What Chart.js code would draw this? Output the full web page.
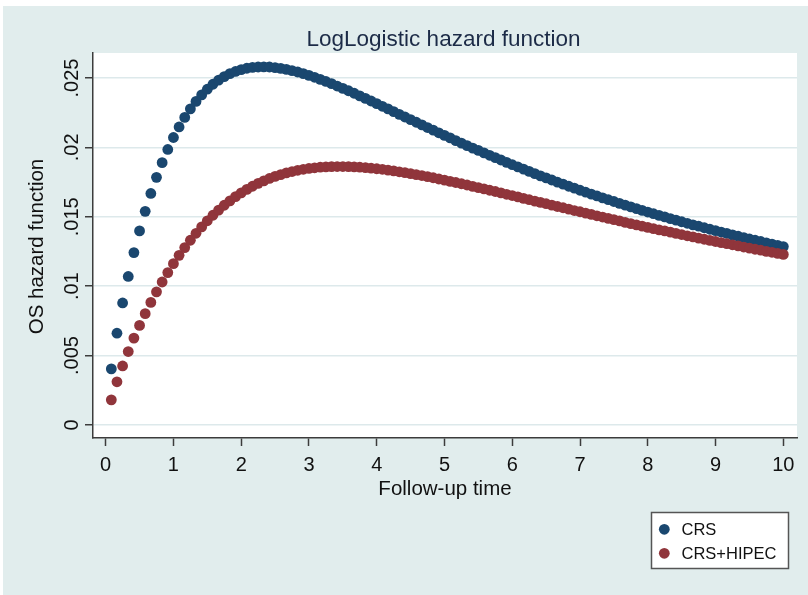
<!DOCTYPE html>
<html>
<head>
<meta charset="utf-8">
<title>LogLogistic hazard function</title>
<script src="https://cdn.jsdelivr.net/npm/chart.js@4.4.1/dist/chart.umd.min.js"></script>
<style>
  html, body { margin: 0; padding: 0; background: #fff; }
  canvas { display: block; }
</style>
</head>
<body>
<canvas id="hazard" width="808" height="595"></canvas>
<script>
// ---- data ----
const titleText = 'LogLogistic hazard function';
const xTitle = 'Follow-up time';
const yTitle = 'OS hazard function';
const seriesNames = ['CRS', 'CRS+HIPEC'];

const xTicks = [0, 1, 2, 3, 4, 5, 6, 7, 8, 9, 10];
const xTickLabels = ['0', '1', '2', '3', '4', '5', '6', '7', '8', '9', '10'];
const yTicks = [0, 0.005, 0.01, 0.015, 0.02, 0.025];
const yTickLabels = ['0', '.005', '.01', '.015', '.02', '.025'];

// follow-up grid, in months (plotted in years)
const months = [
  1, 2, 3, 4, 5, 6, 7, 8, 9, 10, 11, 12, 13, 14, 15, 16, 17, 18, 19, 20,
  21, 22, 23, 24, 25, 26, 27, 28, 29, 30, 31, 32, 33, 34, 35, 36, 37, 38, 39, 40,
  41, 42, 43, 44, 45, 46, 47, 48, 49, 50, 51, 52, 53, 54, 55, 56, 57, 58, 59, 60,
  61, 62, 63, 64, 65, 66, 67, 68, 69, 70, 71, 72, 73, 74, 75, 76, 77, 78, 79, 80,
  81, 82, 83, 84, 85, 86, 87, 88, 89, 90, 91, 92, 93, 94, 95, 96, 97, 98, 99, 100,
  101, 102, 103, 104, 105, 106, 107, 108, 109, 110, 111, 112, 113, 114, 115, 116, 117, 118, 119, 120
];

const crsHazard = [
  0.00404, 0.00661, 0.00879, 0.01070, 0.01242, 0.01398, 0.01539, 0.01668, 0.01784, 0.01890,
  0.01985, 0.02071, 0.02147, 0.02216, 0.02277, 0.02331, 0.02378, 0.02419, 0.02455, 0.02485,
  0.02510, 0.02531, 0.02547, 0.02560, 0.02570, 0.02576, 0.02579, 0.02580, 0.02579, 0.02575,
  0.02569, 0.02562, 0.02553, 0.02543, 0.02531, 0.02519, 0.02505, 0.02490, 0.02475, 0.02459,
  0.02442, 0.02425, 0.02408, 0.02390, 0.02371, 0.02353, 0.02334, 0.02315, 0.02296, 0.02277,
  0.02258, 0.02238, 0.02219, 0.02200, 0.02181, 0.02162, 0.02143, 0.02124, 0.02105, 0.02086,
  0.02068, 0.02049, 0.02031, 0.02013, 0.01995, 0.01978, 0.01960, 0.01943, 0.01926, 0.01909,
  0.01892, 0.01875, 0.01859, 0.01843, 0.01827, 0.01811, 0.01795, 0.01780, 0.01765, 0.01749,
  0.01735, 0.01720, 0.01706, 0.01691, 0.01677, 0.01663, 0.01650, 0.01636, 0.01623, 0.01610,
  0.01597, 0.01584, 0.01571, 0.01559, 0.01546, 0.01534, 0.01522, 0.01510, 0.01499, 0.01487,
  0.01476, 0.01464, 0.01453, 0.01442, 0.01432, 0.01421, 0.01410, 0.01400, 0.01390, 0.01380,
  0.01370, 0.01360, 0.01350, 0.01340, 0.01331, 0.01322, 0.01312, 0.01303, 0.01294, 0.01285
];

const hipecHazard = [
  0.00181, 0.00311, 0.00425, 0.00529, 0.00626, 0.00717, 0.00802, 0.00883, 0.00959, 0.01030,
  0.01098, 0.01162, 0.01222, 0.01278, 0.01331, 0.01381, 0.01427, 0.01471, 0.01511, 0.01548,
  0.01583, 0.01615, 0.01645, 0.01672, 0.01697, 0.01720, 0.01741, 0.01759, 0.01776, 0.01791,
  0.01804, 0.01816, 0.01826, 0.01835, 0.01842, 0.01848, 0.01853, 0.01857, 0.01860, 0.01861,
  0.01862, 0.01862, 0.01861, 0.01860, 0.01857, 0.01854, 0.01850, 0.01846, 0.01842, 0.01836,
  0.01831, 0.01824, 0.01818, 0.01811, 0.01804, 0.01797, 0.01789, 0.01781, 0.01772, 0.01764,
  0.01755, 0.01747, 0.01738, 0.01729, 0.01719, 0.01710, 0.01701, 0.01691, 0.01682, 0.01672,
  0.01662, 0.01653, 0.01643, 0.01633, 0.01623, 0.01613, 0.01604, 0.01594, 0.01584, 0.01574,
  0.01565, 0.01555, 0.01545, 0.01536, 0.01526, 0.01517, 0.01507, 0.01498, 0.01488, 0.01479,
  0.01470, 0.01460, 0.01451, 0.01442, 0.01433, 0.01424, 0.01415, 0.01406, 0.01398, 0.01389,
  0.01380, 0.01372, 0.01363, 0.01355, 0.01346, 0.01338, 0.01330, 0.01322, 0.01314, 0.01306,
  0.01298, 0.01290, 0.01282, 0.01274, 0.01266, 0.01259, 0.01251, 0.01244, 0.01236, 0.01229
];

// ---- style ----
const FONT = '"Liberation Sans", Arial, sans-serif';
const COLORS = ['#1a476f', '#90353b'];
const PANEL = '#e1eded';
const AXIS = '#3c3c3c';
const GRID = '#dde9eb';
const MARKER_R = 5.4;

function toPoints(values) {
    return months.map((m, i) => ({ x: m / 12, y: values[i] }));
}

// panel background, rotated tick labels, titles and the boxed legend
const stataFrame = {
    id: 'stataFrame',
    beforeDraw(chart) {
        const { ctx, chartArea: a } = chart;
        ctx.save();
        ctx.fillStyle = PANEL;
        ctx.fillRect(3, 6, 805, 589);
        ctx.fillStyle = '#ffffff';
        ctx.fillRect(a.left, a.top, a.right - a.left, a.bottom - a.top);
        ctx.restore();
    },
    afterDraw(chart) {
        const { ctx, chartArea: a } = chart;
        const xs = chart.scales.x, ys = chart.scales.y;
        const midX = (a.left + a.right) / 2;
        ctx.save();
        ctx.textAlign = 'center';
        ctx.textBaseline = 'alphabetic';

        // title
        ctx.fillStyle = '#1c2b47';
        ctx.font = `22.5px ${FONT}`;
        ctx.fillText(titleText, midX - 1.5, 45.5);

        // x tick labels + axis title
        ctx.fillStyle = '#111111';
        ctx.font = `20px ${FONT}`;
        xTicks.forEach((v, i) => ctx.fillText(xTickLabels[i], xs.getPixelForValue(v), 470.5));
        ctx.font = `20.5px ${FONT}`;
        ctx.fillText(xTitle, midX, 495);

        // y tick labels, rotated like the axis title
        ctx.font = `20px ${FONT}`;
        yTicks.forEach((v, i) => {
            ctx.save();
            ctx.translate(78, ys.getPixelForValue(v));
            ctx.rotate(-Math.PI / 2);
            ctx.fillText(yTickLabels[i], 0, 0);
            ctx.restore();
        });
        ctx.save();
        ctx.font = `20.5px ${FONT}`;
        ctx.translate(43, (a.top + a.bottom) / 2 + 1);
        ctx.rotate(-Math.PI / 2);
        ctx.fillText(yTitle, 0, 0);
        ctx.restore();

        // legend
        ctx.fillStyle = '#ffffff';
        ctx.fillRect(651, 512, 138, 57);
        ctx.strokeStyle = '#555555';
        ctx.lineWidth = 1.5;
        ctx.strokeRect(651.5, 512.5, 137, 56);
        ctx.font = `16.5px ${FONT}`;
        ctx.textAlign = 'left';
        const rows = [529.3, 553.3];
        seriesNames.forEach((name, i) => {
            ctx.fillStyle = COLORS[i];
            ctx.beginPath();
            ctx.arc(664.3, rows[i], MARKER_R, 0, Math.PI * 2);
            ctx.fill();
            ctx.fillStyle = '#111111';
            ctx.fillText(name, 681.5, rows[i] + 5.8);
        });
        ctx.restore();
    }
};

new Chart(document.getElementById('hazard'), {
    type: 'scatter',
    data: {
        datasets: [
            {
                label: seriesNames[0],
                data: toPoints(crsHazard),
                backgroundColor: COLORS[0],
                borderWidth: 0,
                pointRadius: MARKER_R,
                order: 1
            },
            {
                label: seriesNames[1],
                data: toPoints(hipecHazard),
                backgroundColor: COLORS[1],
                borderWidth: 0,
                pointRadius: MARKER_R,
                order: 0
            }
        ]
    },
    options: {
        responsive: false,
        animation: false,
        devicePixelRatio: 1,
        layout: { padding: { left: 83, top: 53, right: 11, bottom: 147 } },
        plugins: {
            legend: { display: false },
            title: { display: false },
            tooltip: { enabled: false }
        },
        scales: {
            x: {
                type: 'linear',
                min: -0.187,
                max: 10.202,
                afterBuildTicks: s => { s.ticks = xTicks.map(v => ({ value: v })); },
                afterFit: s => { s.height = 10; },
                ticks: { display: false },
                grid: {
                    drawOnChartArea: false,
                    drawTicks: true,
                    tickLength: 8,
                    tickColor: AXIS,
                    tickWidth: 1.5
                },
                border: { display: true, color: AXIS, width: 1.5 }
            },
            y: {
                type: 'linear',
                min: -0.00094,
                max: 0.0268,
                afterBuildTicks: s => { s.ticks = yTicks.map(v => ({ value: v })); },
                afterFit: s => { s.width = 10; },
                ticks: { display: false },
                grid: {
                    color: GRID,
                    lineWidth: 1.5,
                    drawTicks: true,
                    tickLength: 8,
                    tickColor: AXIS,
                    tickWidth: 1.5
                },
                border: { display: true, color: AXIS, width: 1.5 }
            }
        }
    },
    plugins: [stataFrame]
});
</script>
</body>
</html>
